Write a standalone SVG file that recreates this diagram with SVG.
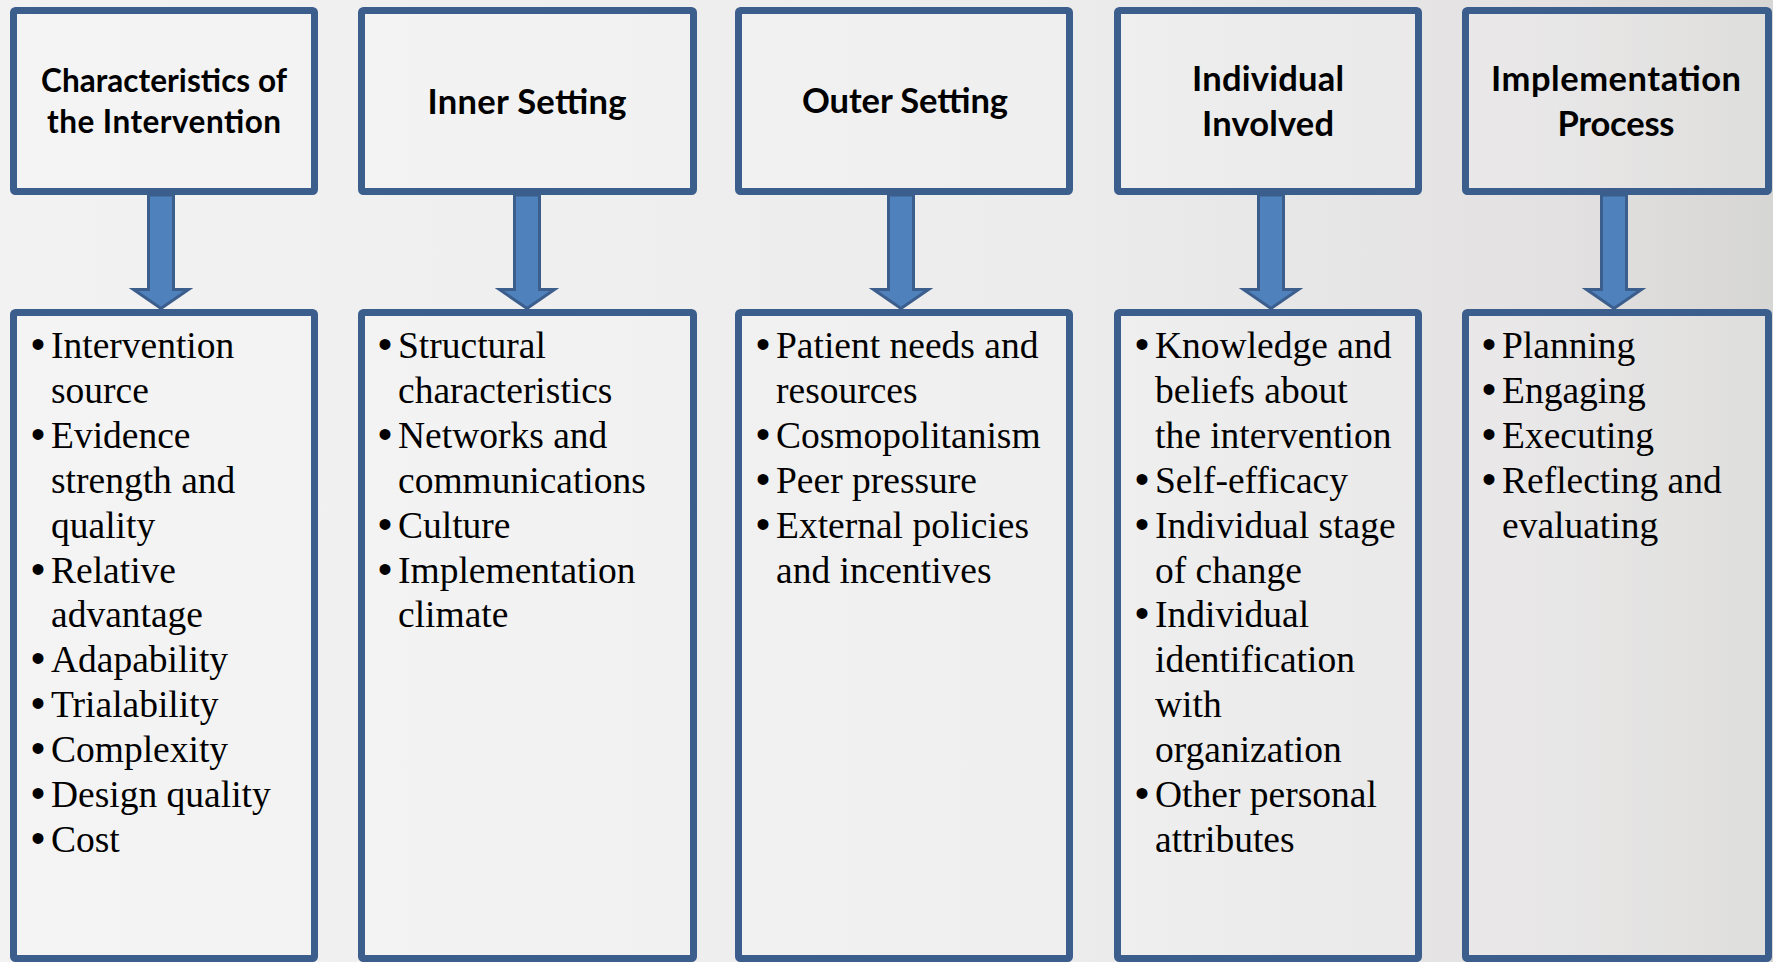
<svg xmlns="http://www.w3.org/2000/svg" width="1773" height="962" viewBox="0 0 1773 962">
<defs>
<linearGradient id="bg" x1="0" y1="0" x2="1" y2="0">
<stop offset="0" stop-color="#f2f2f2"/>
<stop offset="0.6" stop-color="#ececec"/>
<stop offset="0.88" stop-color="#e3e1e1"/>
<stop offset="1" stop-color="#d6d6d4"/>
</linearGradient>
<style>
.box{fill:#ffffff;fill-opacity:0.2;stroke:#3b5e8c;stroke-width:7}
.arr{fill:#4f81bd;stroke:#3b5e8c;stroke-width:3;stroke-linejoin:miter}
.t{font-family:Lato,"Liberation Sans",sans-serif;font-weight:bold;fill:#000;text-anchor:middle}
.b{font-family:"Liberation Serif","Times New Roman",serif;font-size:37.5px;fill:#000}
.bul{font-family:"Liberation Sans",Arial,sans-serif;font-size:40px;fill:#000}
</style>
</defs>
<rect x="0" y="0" width="1773" height="962" fill="url(#bg)"/>

<g id="node-char-title">
<rect class="box" x="13.5" y="10.5" width="301" height="181" rx="2"/>
<text class="t" x="164" y="92" font-size="31.5" textLength="246">Characteristics of</text>
<text class="t" x="164" y="133" font-size="31.5" textLength="234">the Intervention</text>
</g>
<g id="node-inner-title">
<rect class="box" x="361.5" y="10.5" width="332" height="181" rx="2"/>
<text class="t" x="527" y="114" font-size="34.5" textLength="199">Inner Setting</text>
</g>
<g id="node-outer-title">
<rect class="box" x="738.5" y="10.5" width="331" height="181" rx="2"/>
<text class="t" x="905" y="113" font-size="34.5" textLength="206">Outer Setting</text>
</g>
<g id="node-indiv-title">
<rect class="box" x="1117.5" y="10.5" width="301" height="181" rx="2"/>
<text class="t" x="1268" y="91" font-size="34.5" textLength="152">Individual</text>
<text class="t" x="1268" y="136" font-size="34.5" textLength="132">Involved</text>
</g>
<g id="node-impl-title">
<rect class="box" x="1465.5" y="10.5" width="303" height="181" rx="2"/>
<text class="t" x="1616" y="91" font-size="34.5" textLength="250">Implementation</text>
<text class="t" x="1616" y="136" font-size="34.5" textLength="117">Process</text>
</g>

<g id="node-char-list">
<rect class="box" x="13.5" y="312.5" width="301" height="646" rx="2"/>
<g class="bul">
<text x="31" y="358">•</text><text x="31" y="447.8">•</text><text x="31" y="582.5">•</text><text x="31" y="672.3">•</text><text x="31" y="717.2">•</text><text x="31" y="762.1">•</text><text x="31" y="807">•</text><text x="31" y="851.9">•</text>
</g>
<text class="b" x="51" y="358">Intervention</text>
<text class="b" x="51" y="402.9">source</text>
<text class="b" x="51" y="447.8">Evidence</text>
<text class="b" x="51" y="492.7">strength and</text>
<text class="b" x="51" y="537.6">quality</text>
<text class="b" x="51" y="582.5">Relative</text>
<text class="b" x="51" y="627.4">advantage</text>
<text class="b" x="51" y="672.3">Adapability</text>
<text class="b" x="51" y="717.2">Trialability</text>
<text class="b" x="51" y="762.1">Complexity</text>
<text class="b" x="51" y="807">Design quality</text>
<text class="b" x="51" y="851.9">Cost</text>
</g>

<g id="node-inner-list">
<rect class="box" x="361.5" y="312.5" width="332" height="646" rx="2"/>
<g class="bul">
<text x="378" y="358">•</text><text x="378" y="447.8">•</text><text x="378" y="537.6">•</text><text x="378" y="582.5">•</text>
</g>
<text class="b" x="398" y="358">Structural</text>
<text class="b" x="398" y="402.9">characteristics</text>
<text class="b" x="398" y="447.8">Networks and</text>
<text class="b" x="398" y="492.7">communications</text>
<text class="b" x="398" y="537.6">Culture</text>
<text class="b" x="398" y="582.5">Implementation</text>
<text class="b" x="398" y="627.4">climate</text>
</g>

<g id="node-outer-list">
<rect class="box" x="738.5" y="312.5" width="331" height="646" rx="2"/>
<g class="bul">
<text x="756" y="358">•</text><text x="756" y="447.8">•</text><text x="756" y="492.7">•</text><text x="756" y="537.6">•</text>
</g>
<text class="b" x="776" y="358">Patient needs and</text>
<text class="b" x="776" y="402.9">resources</text>
<text class="b" x="776" y="447.8">Cosmopolitanism</text>
<text class="b" x="776" y="492.7">Peer pressure</text>
<text class="b" x="776" y="537.6">External policies</text>
<text class="b" x="776" y="582.5">and incentives</text>
</g>

<g id="node-indiv-list">
<rect class="box" x="1117.5" y="312.5" width="301" height="646" rx="2"/>
<g class="bul">
<text x="1135" y="358">•</text><text x="1135" y="492.7">•</text><text x="1135" y="537.6">•</text><text x="1135" y="627.4">•</text><text x="1135" y="807">•</text>
</g>
<text class="b" x="1155" y="358">Knowledge and</text>
<text class="b" x="1155" y="402.9">beliefs about</text>
<text class="b" x="1155" y="447.8">the intervention</text>
<text class="b" x="1155" y="492.7">Self-efficacy</text>
<text class="b" x="1155" y="537.6">Individual stage</text>
<text class="b" x="1155" y="582.5">of change</text>
<text class="b" x="1155" y="627.4">Individual</text>
<text class="b" x="1155" y="672.3">identification</text>
<text class="b" x="1155" y="717.2">with</text>
<text class="b" x="1155" y="762.1">organization</text>
<text class="b" x="1155" y="807">Other personal</text>
<text class="b" x="1155" y="851.9">attributes</text>
</g>

<g id="node-impl-list">
<rect class="box" x="1465.5" y="312.5" width="303" height="646" rx="2"/>
<g class="bul">
<text x="1482" y="358">•</text><text x="1482" y="402.9">•</text><text x="1482" y="447.8">•</text><text x="1482" y="492.7">•</text>
</g>
<text class="b" x="1502" y="358">Planning</text>
<text class="b" x="1502" y="402.9">Engaging</text>
<text class="b" x="1502" y="447.8">Executing</text>
<text class="b" x="1502" y="492.7">Reflecting and</text>
<text class="b" x="1502" y="537.6">evaluating</text>
</g>

<g id="connectors">
<path class="arr" d="M148.5,195 H173.5 V289.5 H188.5 L161,308.5 L133.5,289.5 H148.5 Z"/>
<path class="arr" d="M514.5,195 H539.5 V289.5 H554.5 L527,308.5 L499.5,289.5 H514.5 Z"/>
<path class="arr" d="M888.5,195 H913.5 V289.5 H928.5 L901,308.5 L873.5,289.5 H888.5 Z"/>
<path class="arr" d="M1258.5,195 H1283.5 V289.5 H1298.5 L1271,308.5 L1243.5,289.5 H1258.5 Z"/>
<path class="arr" d="M1601.5,195 H1626.5 V289.5 H1641.5 L1614,308.5 L1586.5,289.5 H1601.5 Z"/>
</g>
</svg>
